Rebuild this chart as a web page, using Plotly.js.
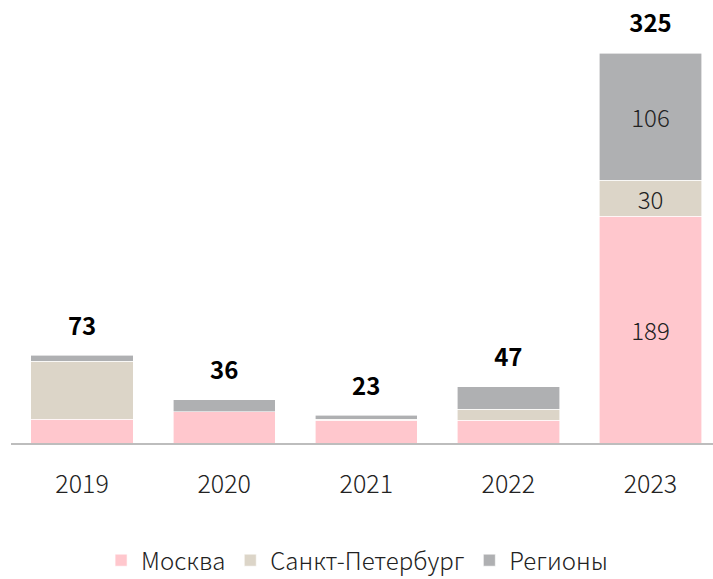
<!DOCTYPE html>
<html>
<head>
<meta charset="utf-8">
<script src="https://cdn.plot.ly/plotly-3.0.1.min.js"></script>
<style>html,body{margin:0;padding:0;background:#fff;}#chart{width:713px;height:579px;}</style>
</head>
<body>
<div id="chart"></div>
<script>
var years = ['2019', '2020', '2021', '2022', '2023'];
var moscow = [20, 26, 19, 19, 189];
var spb = [48, 0, 1, 9, 30];
var regions = [5, 10, 3, 19, 106];
var totals = [73, 36, 23, 47, 325];
var seriesNames = ['Москва', 'Санкт-Петербург', 'Регионы'];
var colors = ['#FFC7CD', '#DCD5C8', '#AFB0B2'];
var labelYear = '2023';

var FONT = '"Noto Sans CJK SC", "Noto Sans", sans-serif';

function insideText(vals) {
  return vals.map(function (v, i) { return years[i] === labelYear ? String(v) : ''; });
}

var data = [moscow, spb, regions].map(function (vals, k) {
  return {
    type: 'bar',
    name: seriesNames[k],
    x: years,
    y: vals,
    marker: { color: colors[k], line: { color: '#ffffff', width: 0.6 } },
    text: insideText(vals),
    textposition: 'inside',
    insidetextanchor: 'middle',
    textangle: 0,
    constraintext: 'none',
    textfont: { family: FONT, size: 24, color: '#222222', weight: 300 },
    hoverinfo: 'none'
  };
});

data.push({
  type: 'scatter',
  mode: 'markers+text',
  x: years,
  y: totals,
  text: totals.map(String),
  textposition: 'top center',
  textfont: { family: FONT, size: 24, color: '#000000', weight: 700 },
  marker: { size: 22, opacity: 0 },
  cliponaxis: false,
  showlegend: false,
  hoverinfo: 'none'
});

var layout = {
  width: 713, height: 579,
  margin: { l: 11, r: 0, t: 20, b: 136, autoexpand: false },
  barmode: 'stack',
  bargap: 0.28,
  paper_bgcolor: '#ffffff', plot_bgcolor: '#ffffff',
  font: { family: FONT, size: 25, color: '#222222', weight: 300 },
  xaxis: {
    type: 'category', range: [-0.5, 4.44], automargin: false,
    showline: true, linecolor: '#BDBDBD', linewidth: 2,
    ticks: 'outside', ticklen: 18, tickcolor: 'rgba(0,0,0,0)',
    tickfont: { family: FONT, size: 25, color: '#222222', weight: 300 },
    showgrid: false, zeroline: false
  },
  yaxis: { range: [0, 352.5], automargin: false, showticklabels: false, showline: false, ticks: '', showgrid: false, zeroline: false },
  showlegend: true,
  legend: {
    orientation: 'h', x: 0.493, xanchor: 'center', y: -0.278, yanchor: 'middle',
    font: { family: FONT, size: 24, color: '#222222', weight: 300 },
    traceorder: 'normal', borderwidth: 0, tracegroupgap: 0
  }
};

Plotly.newPlot('chart', data, layout, { displayModeBar: false, staticPlot: true });
</script>
</body>
</html>
